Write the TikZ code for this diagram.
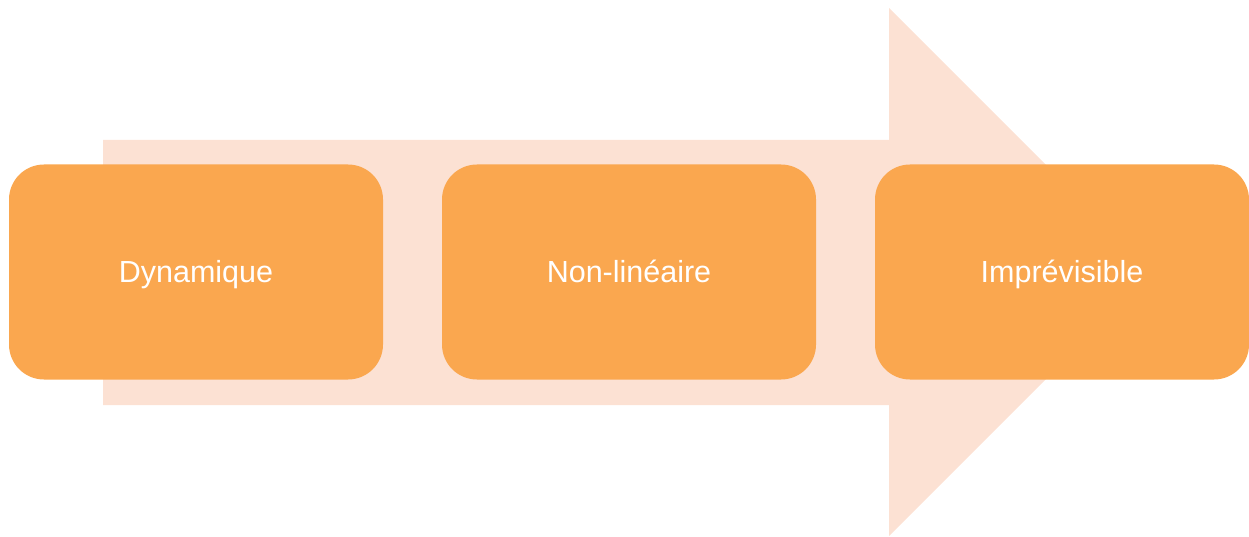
\documentclass[tikz,border=0pt]{standalone}
\usepackage{fontspec}
\setmainfont{Liberation Sans}
\definecolor{boxorange}{HTML}{FAA74F}
\definecolor{arrowpeach}{HTML}{FCE1D3}
\begin{document}
\begin{tikzpicture}[x=1pt,y=1pt,
  stepbox/.style={fill=boxorange, draw=none, rounded corners=35pt, minimum width=374pt, minimum height=215pt, text=white, font=\fontsize{30.5}{34}\selectfont, inner sep=0pt, text height=25pt, text depth=4pt}]
\useasboundingbox (0,0) rectangle (1249,536);
\fill[arrowpeach] (103,131) -- (889,131) -- (889,0) -- (1153,264) -- (889,528) -- (889,396) -- (103,396) -- cycle;
\node[stepbox] (a) at (196,264) {Dynamique};
\node[stepbox] (b) at (629,264) {Non-linéaire};
\node[stepbox] (c) at (1062,264) {Imprévisible};
\end{tikzpicture}
\end{document}
